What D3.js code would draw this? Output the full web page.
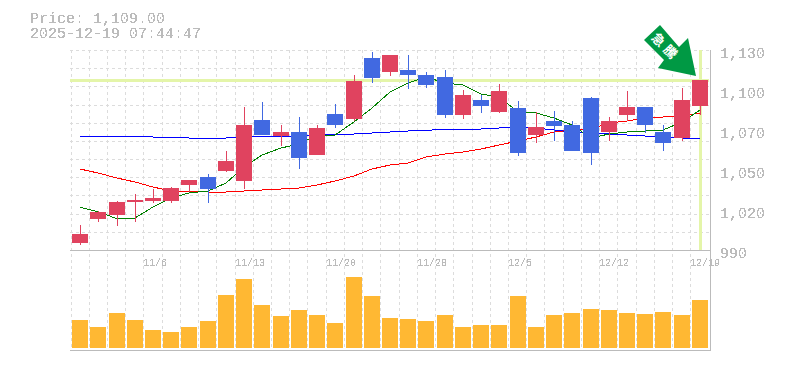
<!DOCTYPE html>
<html>
<head>
<meta charset="utf-8">
<script src="https://cdn.jsdelivr.net/npm/d3@7"></script>
<style>
html, body { margin: 0; padding: 0; background: #fff; }
svg { display: block; }
</style>
</head>
<body>
<div id="chart"></div>
<script>
// Daily candles
const dates = ["10/30","10/31","11/4","11/5","11/6","11/7","11/10","11/11","11/12","11/13","11/14","11/17","11/18","11/19","11/20","11/21","11/25","11/26","11/27","11/28","12/1","12/2","12/3","12/4","12/5","12/8","12/9","12/10","12/11","12/12","12/15","12/16","12/17","12/18","12/19"];
const opens  = [994.9,1011.7,1014.5,1023.6,1024.3,1024.3,1035.5,1041.1,1045.3,1038.3,1081,1069.8,1072.6,1056.5,1085.2,1081.7,1124.4,1114.6,1116,1112.5,1111.1,1084.5,1095,1086.6,1089.4,1070.5,1080.3,1077.5,1096.4,1072.6,1084.5,1090.1,1072.6,1068.4,1090.8];
const closes = [1001.2,1016.6,1023.6,1025,1026.4,1033.4,1039,1032.7,1052.3,1077.5,1070.5,1072.6,1054.4,1075.4,1077.5,1108.3,1110.4,1126.5,1112.5,1105.5,1084.5,1098.5,1090.8,1101.3,1057.9,1076.1,1076.8,1059.3,1057.9,1080.3,1090.1,1077.5,1065.1,1095,1109];
const highs  = [1007.5,1017.3,1024.3,1029.2,1032.7,1034.1,1039,1043.2,1059.3,1090.1,1093.6,1077.5,1083.1,1077.5,1092.2,1112.5,1128.6,1126.5,1126.5,1114.6,1116,1102,1098.5,1106.2,1094.3,1086.6,1087.3,1080.3,1097.1,1083.1,1101.3,1090.1,1077.5,1103.4,1109];
const lows   = [993.5,1009.6,1006.8,1009.6,1022.9,1022.9,1030.6,1022.9,1044.6,1032.7,1070.5,1062.8,1046.7,1056.5,1075.4,1080.3,1106.9,1111.8,1102.7,1103.4,1082.4,1081.7,1085.9,1085.9,1055.8,1064.9,1066.3,1059.3,1049.5,1066.3,1080.3,1071.9,1059.3,1066.3,1084.5];
const ma5   = [1019.9,1016.8,1011.9,1012.4,1020.1,1026.4,1029.9,1031.3,1036.9,1048.1,1056.5,1061.4,1064.2,1070.5,1070.5,1079.6,1089.4,1100.6,1106.9,1111.1,1106.9,1105.5,1099.2,1097.1,1086.6,1085.9,1082.4,1077.5,1068.4,1071.2,1072.6,1073.3,1074,1079.6,1088];
const ma25  = [1046.7,1043.9,1040.4,1037.6,1034.1,1031.3,1031.3,1030.6,1030.6,1031.3,1032,1032.7,1033.4,1035.5,1038.3,1041.8,1046.7,1049.5,1050.9,1055.1,1057.2,1058.6,1060.7,1063.5,1066.3,1069.1,1072.6,1074,1074.7,1078.9,1080.3,1082.4,1083.1,1083.8,1085.9];
const ma75  = [1069.8,1069.8,1069.8,1069.8,1069.1,1069.1,1068.4,1068.4,1068.4,1069.1,1069.8,1069.8,1069.8,1070.5,1071.2,1071.2,1071.9,1072.6,1073.3,1073.7,1074.7,1074.7,1074.7,1075.4,1076.1,1075.4,1074,1072.6,1071.9,1071.2,1070.5,1069.8,1069.1,1068.4,1068.4];
const volume = [28,21,35,28,18,16,21,27,53,69,43,32,38,33,25,71,52,30,29,27,33,21,23,23,52,21,33,35,39,38,35,34,36,33,48];

const priceTicks = [1130,1102,1074,1046,1018,990];
const priceLabels = ["1,130","1,100","1,070","1,050","1,020","990"];
const dateTicks = ["11/6","11/13","11/20","11/28","12/5","12/12","12/19"];
const lastPrice = 1109;
const title = ["Price: 1,109.00","2025-12-19 07:44:47"];

const width = 785, height = 370;
const plotLeft = 70, plotRight = 709, plotTop = 50, priceBottom = 250, volBottom = 350;
const up = "#e0435f", down = "#4169e1";

const svg = d3.select("#chart").append("svg")
    .attr("width", width)
    .attr("height", height);

// threshold the alpha so text comes out hard edged like the original
const f = svg.append("defs").append("filter").attr("id", "hard")
    .attr("x", "-5%").attr("y", "-20%").attr("width", "110%").attr("height", "140%");
f.append("feComponentTransfer").append("feFuncA")
    .attr("type", "discrete").attr("tableValues", "0 0 1 1 1");

const x = d3.scaleBand().domain(dates).range([plotLeft + 1, plotRight]);
const y = d3.scaleLinear().domain([990, 1130]).range([priceBottom, plotTop]);
const v = d3.scaleLinear().domain([0, 98]).range([volBottom - 2, priceBottom]);
const cx = d => Math.round(x(d) + x.bandwidth() / 2);
const px = d => Math.floor(x(d)) + 0.5;

// grid
const grid = svg.append("g")
    .attr("stroke", "#dcdcdc")
    .attr("stroke-dasharray", "3,3")
    .attr("shape-rendering", "crispEdges");
grid.selectAll("line.v").data(dates).enter().append("line")
    .attr("class", "v")
    .attr("x1", px).attr("x2", px)
    .attr("y1", plotTop).attr("y2", volBottom);
grid.selectAll("line.h").data(d3.range(0, 12)).enter().append("line")
    .attr("class", "h")
    .attr("x1", plotLeft).attr("x2", plotRight)
    .attr("y1", d => Math.round(plotTop + d * (priceBottom - plotTop) / 11) + 0.5)
    .attr("y2", d => Math.round(plotTop + d * (priceBottom - plotTop) / 11) + 0.5);

// last price and last day markers
const marks = svg.append("g").attr("stroke", "#e4f5a9").attr("stroke-width", 3)
    .attr("shape-rendering", "crispEdges");
marks.append("line")
    .attr("x1", plotLeft).attr("x2", plotRight)
    .attr("y1", y(lastPrice)).attr("y2", y(lastPrice));
marks.append("line")
    .attr("x1", cx(dates[dates.length - 1]) + 0.5).attr("x2", cx(dates[dates.length - 1]) + 0.5)
    .attr("y1", plotTop).attr("y2", priceBottom);

// frame
const frame = svg.append("g").attr("stroke", "#bbb").attr("shape-rendering", "crispEdges");
frame.append("line").attr("x1", plotLeft).attr("x2", plotRight + 1).attr("y1", priceBottom + 0.5).attr("y2", priceBottom + 0.5);
frame.append("line").attr("x1", plotLeft).attr("x2", plotRight + 1).attr("y1", volBottom + 0.5).attr("y2", volBottom + 0.5);
frame.append("line").attr("x1", plotRight + 1.5).attr("x2", plotRight + 1.5).attr("y1", plotTop).attr("y2", volBottom + 1);

// volume
svg.append("g").attr("shape-rendering", "crispEdges")
    .selectAll("rect").data(volume).enter().append("rect")
    .attr("x", (d, i) => cx(dates[i]) - 8)
    .attr("width", 16)
    .attr("y", d => v(d))
    .attr("height", d => v(0) - v(d))
    .attr("fill", "#ffb833");

// moving averages
const line = d3.line().x((d, i) => cx(dates[i])).y(d => y(d));
[[ma75, "#0000ff"], [ma25, "#ff0000"], [ma5, "#008000"]].forEach(([vals, col]) => {
    svg.append("path")
        .attr("d", line(vals))
        .attr("fill", "none")
        .attr("stroke", col)
        .attr("stroke-width", 1)
        .attr("shape-rendering", "crispEdges");
});

// candles
const candle = svg.append("g").attr("shape-rendering", "crispEdges")
    .selectAll("g").data(dates).enter().append("g")
    .attr("fill", (d, i) => closes[i] >= opens[i] ? up : down)
    .attr("stroke", (d, i) => closes[i] >= opens[i] ? up : down);
candle.append("line")
    .attr("x1", d => cx(d) + 0.5).attr("x2", d => cx(d) + 0.5)
    .attr("y1", (d, i) => y(highs[i])).attr("y2", (d, i) => y(lows[i]));
candle.append("rect")
    .attr("x", d => cx(d) - 8)
    .attr("width", 16)
    .attr("stroke", "none")
    .attr("y", (d, i) => y(Math.max(opens[i], closes[i])))
    .attr("height", (d, i) => Math.max(1, Math.abs(y(opens[i]) - y(closes[i]))));

// text
const mono = "'Liberation Mono', monospace";
svg.append("text").attr("fill", "#bbb").attr("font-family", mono).attr("font-size", 15)
    .attr("filter", "url(#hard)")
    .selectAll("tspan").data(title).enter().append("tspan")
    .attr("x", 30)
    .attr("y", (d, i) => 23 + i * 15)
    .text(d => d);
svg.append("g").attr("fill", "#bbb").attr("font-family", mono).attr("font-size", 15)
    .attr("filter", "url(#hard)")
    .selectAll("text").data(priceTicks).enter().append("text")
    .attr("x", 720)
    .attr("y", d => y(d) + 8)
    .text((d, i) => priceLabels[i]);
svg.append("g").attr("fill", "#bbb").attr("font-family", mono).attr("font-size", 10)
    .attr("filter", "url(#hard)")
    .selectAll("text").data(dateTicks).enter().append("text")
    .attr("x", d => px(d) - 0.5)
    .attr("y", 266)
    .text(d => d);

// surge arrow, hung from the last candle's top
const tipX = cx(dates[dates.length - 1]) - 4, tipY = y(lastPrice) - 4;
const arrow = svg.append("g").attr("transform", `translate(${tipX},${tipY})`);
arrow.append("path")
    .attr("d", "M0,0L-38,-8L-32,-16L-52,-36L-36,-51L-17,-29L-8,-38Z")
    .attr("fill", "#009944");
arrow.append("text")
    .attr("transform", "translate(-30,-29) rotate(45)")
    .attr("text-anchor", "middle")
    .attr("y", 5)
    .attr("font-family", "'Noto Sans CJK JP'")
    .attr("font-weight", "bold")
    .attr("font-size", 13)
    .attr("letter-spacing", 4)
    .attr("fill", "#fff")
    .text("急騰");
</script>
</body>
</html>
